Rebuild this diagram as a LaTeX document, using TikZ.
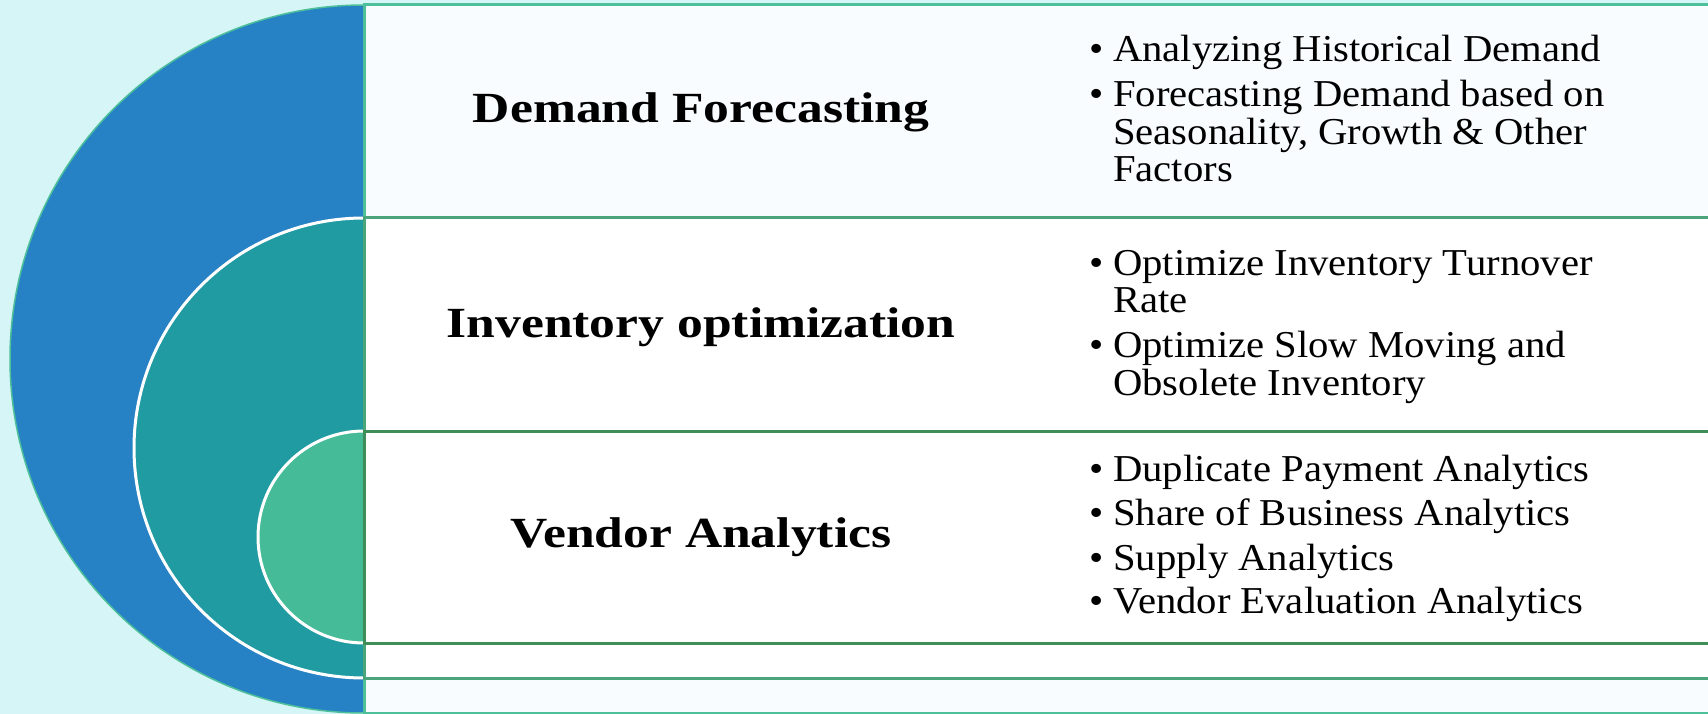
\documentclass[tikz,border=0pt]{standalone}
\usepackage{fontspec}
\setmainfont{Liberation Serif}
\newfontfamily\bodyfont[FakeStretch=1.07]{Liberation Serif}
\newfontfamily\headfont[FakeStretch=1.2]{Liberation Serif Bold}
\definecolor{bgc}{HTML}{D5F5F7}
\definecolor{blueC}{HTML}{2782C5}
\definecolor{tealC}{HTML}{1F9BA1}
\definecolor{greenC}{HTML}{45BB98}
\definecolor{boxAfill}{HTML}{F8FCFE}
\definecolor{lineA}{HTML}{4DBF99}
\definecolor{lineB}{HTML}{4AA57A}
\definecolor{lineC}{HTML}{3F8E5A}
\tikzset{
  head/.style={anchor=base, inner sep=0pt, font=\headfont\fontsize{43}{43}\selectfont},
  itemtext/.style={anchor=base west, inner sep=0pt, font=\bodyfont\fontsize{38}{38}\selectfont},
  dot/.style={anchor=base, inner sep=0pt, font=\bodyfont\fontsize{38}{38}\selectfont},
  boxA/.style={fill=boxAfill, draw=lineA, line width=3pt},
  boxB/.style={fill=white, draw=lineB, line width=3pt},
  boxC/.style={fill=white, draw=lineC, line width=3pt},
}
\begin{document}
\begin{tikzpicture}[x=1pt,y=-1pt]
\useasboundingbox (0,0) rectangle (1708,714);
\clip (0,0) rectangle (1708,714);
\fill[bgc] (0,0) rectangle (1708,714);
% boxes
\draw[boxA] (364,5) rectangle (1720,713);
% half discs
\fill[blueC] (364,5) arc[start angle=270,end angle=90,radius=354] -- cycle;
\draw[lineA, line width=1.5pt] (364,5) arc[start angle=270,end angle=90,radius=354];
\draw[boxB] (364,218) rectangle (1720,678);
\fill[tealC] (364,218) arc[start angle=270,end angle=90,radius=230] -- cycle;
\draw[white, line width=3pt] (364,218) arc[start angle=270,end angle=90,radius=230];
\draw[boxC] (364,431) rectangle (1720,643);
\fill[greenC] (364,431) arc[start angle=270,end angle=90,radius=106] -- cycle;
\draw[white, line width=3pt] (364,431) arc[start angle=270,end angle=90,radius=106];
\draw[lineA, line width=3pt] (364,3.5) -- (364,219.5);
\draw[lineA, line width=3pt] (364,676.5) -- (364,714);
\draw[lineB, line width=3pt] (364,216.5) -- (364,432.5);
\draw[lineB, line width=3pt] (364,641.5) -- (364,679.5);
\draw[lineC, line width=3pt] (364,429.5) -- (364,644.5);
% headings
\node[head] (h1) at (701,123) {Demand Forecasting};
\node[head] (h2) at (701,337) {Inventory optimization};
\node[head] (h3) at (701,547) {Vendor Analytics};
% bullets band 1
\node[dot] (d1a) at (1097,62) {•};
\node[itemtext] (t1a) at (1113,62) {Analyzing Historical Demand};
\node[dot] (d1b) at (1097,107) {•};
\node[itemtext] (t1b) at (1113,107) {Forecasting Demand based on};
\node[itemtext] (t1c) at (1113,144.5) {Seasonality, Growth \& Other};
\node[itemtext] (t1d) at (1113,182) {Factors};
% bullets band 2
\node[dot] (d2a) at (1097,275) {•};
\node[itemtext] (t2a) at (1113,275) {Optimize Inventory Turnover};
\node[itemtext] (t2b) at (1113,312) {Rate};
\node[dot] (d2b) at (1097,357) {•};
\node[itemtext] (t2c) at (1113,357) {Optimize Slow Moving and};
\node[itemtext] (t2d) at (1113,395) {Obsolete Inventory};
% bullets band 3
\node[dot] (d3a) at (1097,481) {•};
\node[itemtext] (t3a) at (1113,481) {Duplicate Payment Analytics};
\node[dot] (d3b) at (1097,525) {•};
\node[itemtext] (t3b) at (1113,525) {Share of Business Analytics};
\node[dot] (d3c) at (1097,570) {•};
\node[itemtext] (t3c) at (1113,570) {Supply Analytics};
\node[dot] (d3d) at (1097,613) {•};
\node[itemtext] (t3d) at (1113,613) {Vendor Evaluation Analytics};
\end{tikzpicture}
\end{document}
